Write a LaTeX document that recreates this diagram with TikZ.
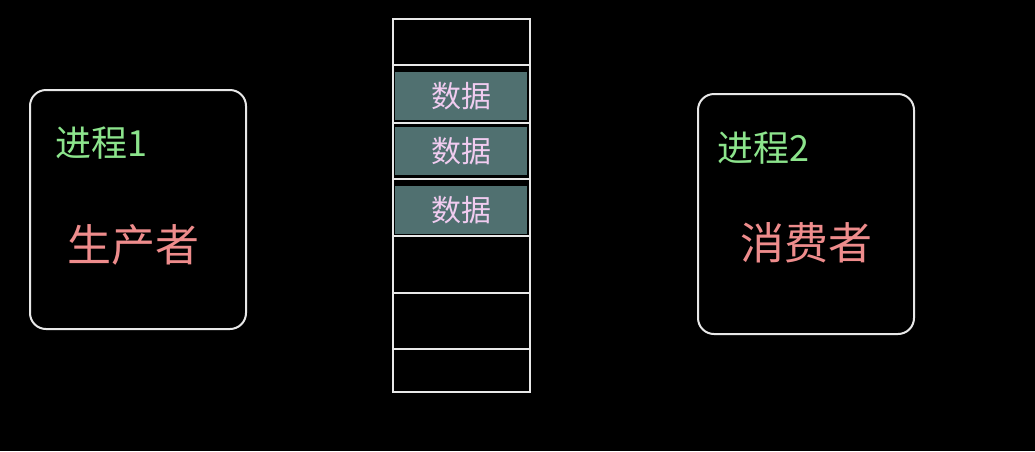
\documentclass[tikz,border=0pt]{standalone}
\usepackage{fontspec}
\setmainfont{Noto Sans CJK SC}
\definecolor{procgreen}{RGB}{140,228,140}
\definecolor{rolered}{RGB}{238,140,140}
\definecolor{datapink}{RGB}{240,204,240}
\definecolor{datateal}{RGB}{80,112,112}
\definecolor{linegray}{RGB}{232,232,232}
\tikzset{
  procbox/.style={draw=linegray, line width=2pt, rounded corners=16pt, inner sep=0pt, anchor=north west},
  cellbox/.style={draw=linegray, line width=2pt, inner sep=0pt, minimum width=137pt, anchor=north west},
  databox/.style={fill=datateal, inner sep=0pt, minimum width=132pt, minimum height=48pt, anchor=north west, text=datapink, font=\fontsize{30}{30}\selectfont},
  proclabel/.style={text=procgreen, font=\fontsize{36}{36}\selectfont, anchor=west, inner sep=0pt},
  rolelabel/.style={text=rolered, font=\fontsize{44}{44}\selectfont, inner sep=0pt}
}
\begin{document}
\begin{tikzpicture}[x=1pt,y=-1pt]
\fill[black] (0,0) rectangle (1035,451);
\useasboundingbox (0,0) rectangle (1035,451);
% producer
\node[procbox, minimum width=216pt, minimum height=239pt] (prod) at (29,89) {};
\node[proclabel] (p1) at (55,143) {进程1};
\node[rolelabel] (prodtxt) at (133,245) {生产者};
% consumer
\node[procbox, minimum width=216pt, minimum height=240pt] (cons) at (697,93) {};
\node[proclabel] (p2) at (717,148) {进程2};
\node[rolelabel] (constxt) at (806,243) {消费者};
% buffer cells
\node[cellbox, minimum height=46pt] (c1) at (392,18) {};
\node[cellbox, minimum height=58pt] (c2) at (392,64) {};
\node[cellbox, minimum height=56pt] (c3) at (392,122) {};
\node[cellbox, minimum height=57pt] (c4) at (392,178) {};
\node[cellbox, minimum height=57pt] (c5) at (392,235) {};
\node[cellbox, minimum height=56pt] (c6) at (392,292) {};
\node[cellbox, minimum height=43pt] (c7) at (392,348) {};
% data
\node[databox] (d1) at (395,72) {数据};
\node[databox] (d2) at (395,127) {数据};
\node[databox] (d3) at (395,186) {数据};
\end{tikzpicture}
\end{document}
